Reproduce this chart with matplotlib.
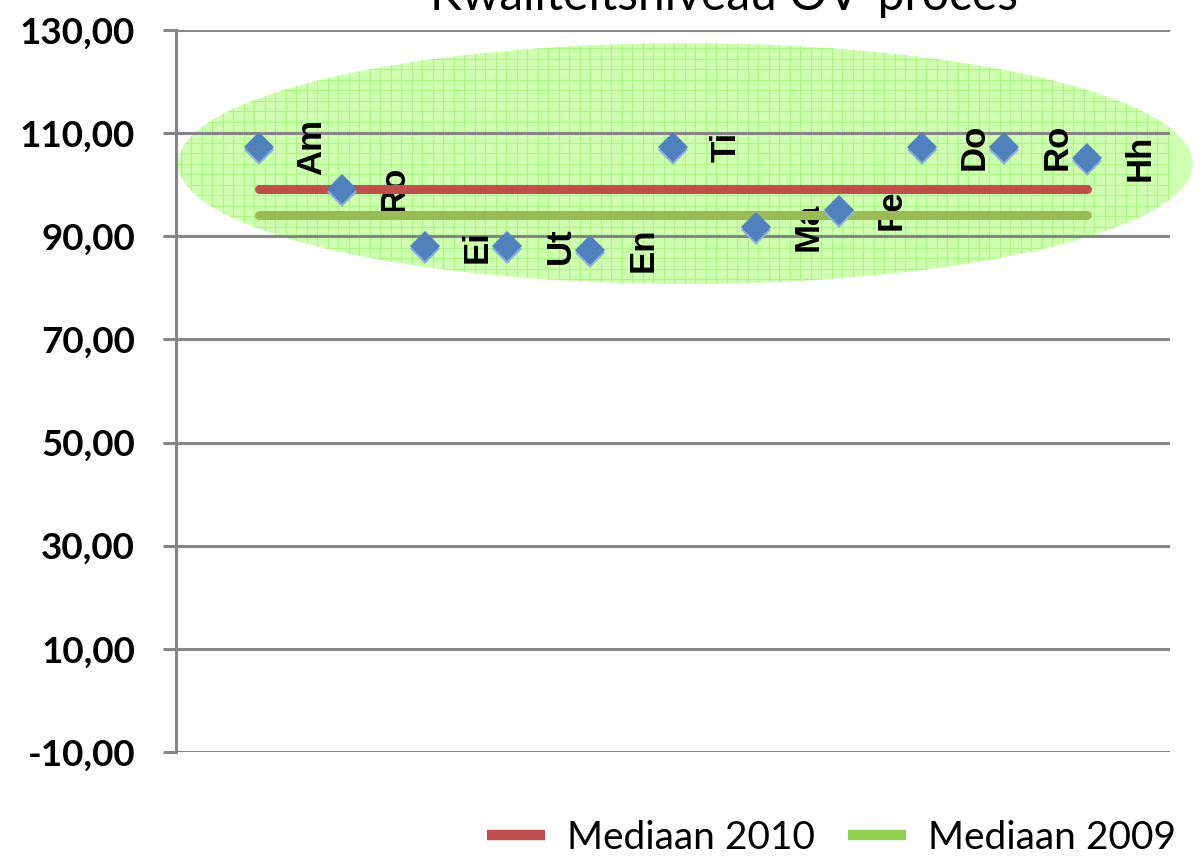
import matplotlib.pyplot as plt
from matplotlib.patches import Ellipse
from matplotlib.lines import Line2D
from matplotlib.collections import LineCollection
from matplotlib.transforms import offset_copy, IdentityTransform
import numpy as np

# data
regions = ["Am", "Ro", "Ei", "Ut", "En", "Ti", "Ma", "Fe", "Do", "Ro", "Hh"]
scores = [107.3, 99.2, 88.1, 88.1, 87.3, 107.3, 91.8, 95.1, 107.3, 107.3, 105.2]
median_2010 = 99.2
median_2009 = 94.1
y_ticks = [-10, 10, 30, 50, 70, 90, 110, 130]
title = "Kwaliteitsniveau OV-proces"

plt.rcParams["font.family"] = ["Lato", "DejaVu Sans"]

W, H = 1202, 856
fig = plt.figure(figsize=(W / 100, H / 100), dpi=100)
ax = fig.add_axes([176 / W, 1 - 752 / H, (1170 - 176) / W, (752 - 30) / H])

x = np.arange(1, len(scores) + 1)

# highlight ellipse behind the points, with a fine green grid texture
ell = Ellipse((6.15, 104.1), 12.25, 46.7, facecolor="#cfffb0", edgecolor="none",
              clip_on=False, zorder=0.2)
ax.add_patch(ell)
step = 10.5
segs = [[(gx, 0), (gx, H)] for gx in np.arange(170, W, step)]
segs += [[(0, gy), (W, gy)] for gy in np.arange(H - 300, H - 30, step)]
tex = LineCollection(segs, colors="#abf584", linewidths=0.8,
                     transform=IdentityTransform(), zorder=0.3)
ax.add_collection(tex)
tex.set_clip_path(ell)

grey = "#868686"
ax.set_ylim(-10, 130)
ax.set_xlim(0, 12)
ax.set_yticks(y_ticks)
ax.set_yticklabels([f"{v:.2f}".replace(".", ",") for v in y_ticks],
                   fontsize=26.5, fontweight="bold")
ax.set_xticks([])
ax.tick_params(axis="y", length=9.5, width=2.2, color=grey, pad=20)
ax.yaxis.grid(True, color=grey, linewidth=2.2)
for s in ["top", "right", "bottom"]:
    ax.spines[s].set_visible(False)
ax.spines["left"].set_color(grey)
ax.spines["left"].set_linewidth(2.2)

# data labels, rotated, to the right of each point
for xi, yi, name in zip(x, scores, regions):
    ax.annotate(name, (xi, yi), xytext=(38, 0), textcoords="offset points",
                rotation=90, ha="center", va="center", fontsize=25,
                fontweight="bold", family="Liberation Sans", zorder=2)

ax.plot([x[0], x[-1]], [median_2010, median_2010], color="#c0504d", lw=6.5,
        solid_capstyle="round", zorder=3)
ax.plot([x[0], x[-1]], [median_2009, median_2009], color="#9bbb59", lw=6.5,
        solid_capstyle="round", zorder=3)

shadow = offset_copy(ax.transData, fig=fig, x=0, y=-3, units="dots")
ax.plot(x, scores, "D", color="#92aedb", ms=15.5, mew=0, transform=shadow, zorder=4)
ax.plot(x, scores, "D", color="#4f81bd", ms=15.5, mew=0, zorder=5)

fig.text(724 / W, 1 - 10 / H, title, ha="center", va="baseline", fontsize=34.5)

handles = [Line2D([], [], color="#c0504d", lw=7.5, solid_capstyle="butt"),
           Line2D([], [], color="#92d050", lw=7.5, solid_capstyle="butt")]
fig.legend(handles, ["Mediaan 2010", "Mediaan 2009"], loc="center left",
           bbox_to_anchor=(487 / W, 1 - 838 / H), ncol=2, frameon=False,
           fontsize=28, handlelength=1.5, handletextpad=0.55, columnspacing=0.85,
           borderpad=0, borderaxespad=0)

fig.savefig("out.png", dpi=100)
